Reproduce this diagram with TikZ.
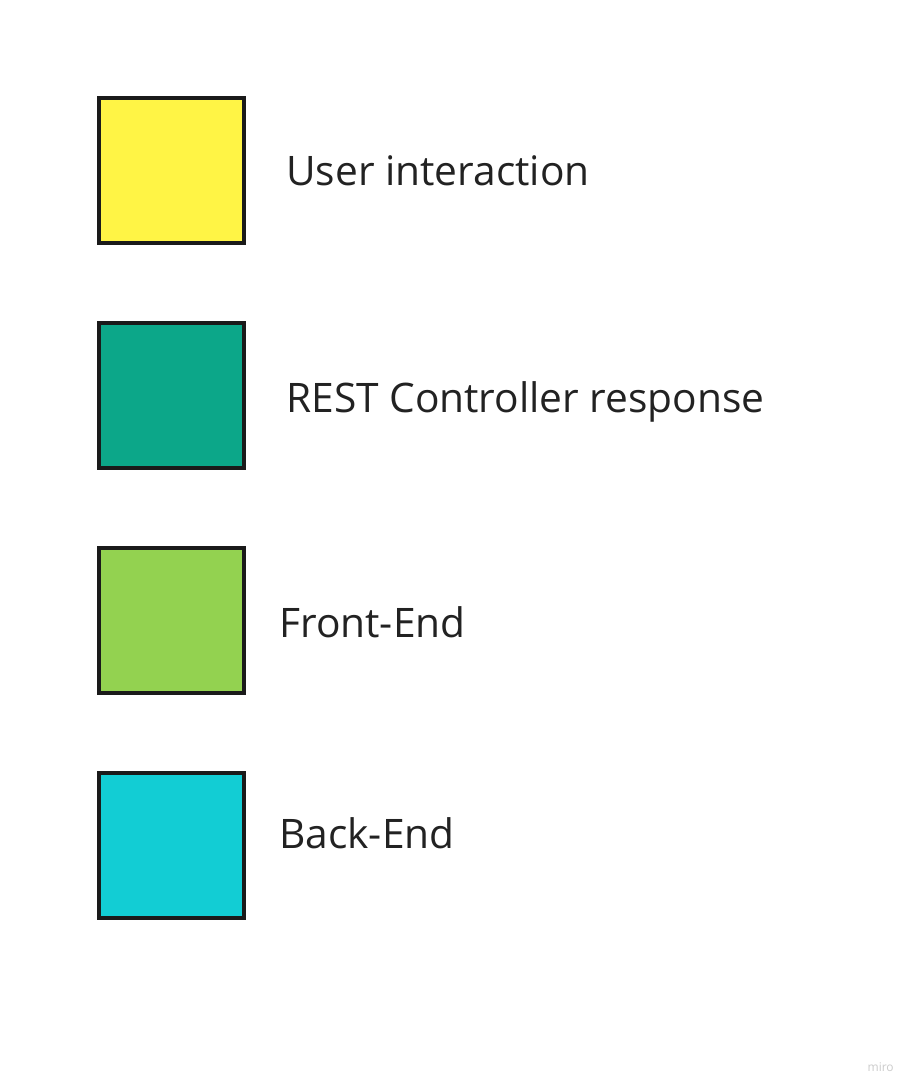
\documentclass[tikz,border=0pt]{standalone}
\usepackage{fontspec}
\setmainfont{Open Sans}
\definecolor{userYellow}{HTML}{FFF445}
\definecolor{restTeal}{HTML}{0CA789}
\definecolor{frontGreen}{HTML}{93D250}
\definecolor{backCyan}{HTML}{12CDD4}
\definecolor{edgeDark}{HTML}{1A1A1A}
\definecolor{textDark}{HTML}{222222}
\tikzset{
    keybox/.style={draw=edgeDark,line width=2.6pt,minimum size=109pt,inner sep=0pt},
    keytext/.style={anchor=base west,inner sep=0pt,text=textDark,font=\fontsize{30.5}{32}\selectfont}
}
\begin{document}
\begin{tikzpicture}[x=0.75pt,y=-0.75pt]
    \useasboundingbox[fill=white] (0,0) rectangle (915,1092);
    \begin{scope}[every node/.style={keybox}]
        \node[fill=userYellow] (user) at (171.5,170.5) {};
        \node[fill=restTeal] (rest) at (171.5,395.5) {};
        \node[fill=frontGreen] (front) at (171.5,620.5) {};
        \node[fill=backCyan] (back) at (171.5,845.5) {};
    \end{scope}
    \begin{scope}[every node/.style={keytext}]
        \node (userlabel) at (286,185) {User interaction};
        \node (restlabel) at (286,412) {REST Controller response};
        \node (frontlabel) at (279,637) {Front-End};
        \node (backlabel) at (279,848) {Back-End};
    \end{scope}
    \node[anchor=base east,inner sep=0pt,text=black!20,font=\fontsize{9}{10}\selectfont] (miro) at (894,1071) {miro};
\end{tikzpicture}
\end{document}
